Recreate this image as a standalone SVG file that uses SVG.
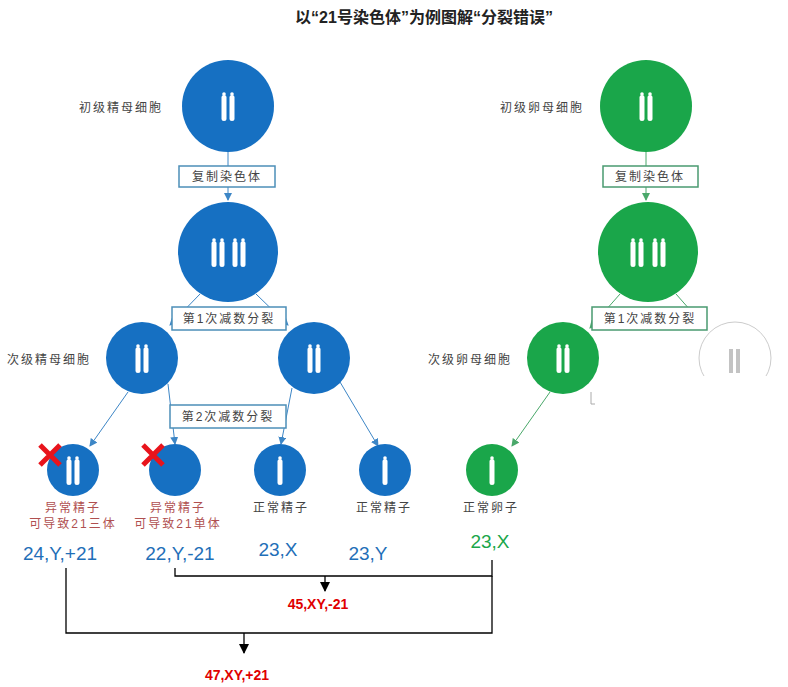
<svg xmlns="http://www.w3.org/2000/svg" width="788" height="687" viewBox="0 0 788 687">
<style>
text{font-family:"Liberation Sans","Noto Sans CJK SC",sans-serif}
.lb{font-size:12px;fill:#444;letter-spacing:2px}
.bx{fill:#fff;stroke-width:1.5}
.b{fill:#1670c2}.g{fill:#1aa64a}
.cb{stroke:#3d86c6;stroke-width:1;fill:none}
.cg{stroke:#4aa86a;stroke-width:1;fill:none}
.ch{fill:#fff}
.num{font-size:19px}
.res{font-size:14px;font-weight:bold;fill:#e00000}
.k{stroke:#000;stroke-width:1.3;fill:none}
</style>
<defs>
<g id="chr"><rect x="-2.5" y="-13" width="5" height="26" rx="2.5" class="ch"/><circle cx="0" cy="-14" r="1.8" class="ch"/></g>
<g id="pair"><use href="#chr" x="-4"/><use href="#chr" x="4"/></g>
<marker id="ab" markerWidth="8" markerHeight="8" refX="7" refY="4" orient="auto" markerUnits="userSpaceOnUse"><path d="M0,0L8,4L0,8z" fill="#3d86c6"/></marker>
<marker id="ag" markerWidth="8" markerHeight="8" refX="7" refY="4" orient="auto" markerUnits="userSpaceOnUse"><path d="M0,0L8,4L0,8z" fill="#4aa86a"/></marker>
<marker id="ak" markerWidth="10" markerHeight="10" refX="9" refY="5" orient="auto" markerUnits="userSpaceOnUse"><path d="M0,0L10,5L0,10z" fill="#000"/></marker>
</defs>
<text x="424" y="23" text-anchor="middle" font-size="16" font-weight="bold" fill="#222">以“21号染色体”为例图解“分裂错误”</text>
<g id="connectors">
<path class="cb" d="M228,152V200" marker-end="url(#ab)"/>
<path class="cb" d="M200,294L170,325" marker-end="url(#ab)"/>
<path class="cb" d="M256,294L288,325" marker-end="url(#ab)"/>
<path class="cb" d="M128,392L90,446" marker-end="url(#ab)"/>
<path class="cb" d="M168,384L175,444" marker-end="url(#ab)"/>
<path class="cb" d="M292,388L281,444" marker-end="url(#ab)"/>
<path class="cb" d="M340,382L378,446" marker-end="url(#ab)"/>
<path class="cg" d="M646,152V200" marker-end="url(#ag)"/>
<path class="cg" d="M620,294L590,328" marker-end="url(#ag)"/>
<path class="cg" d="M676,294L706,328" marker-end="url(#ag)" stroke="#bbb"/>
<path class="cg" d="M550,392L512,446" marker-end="url(#ag)"/>
<path d="M591,392V404M591,404h4" stroke="#aaa" fill="none"/>
<path class="k" d="M175,568V576H492V560"/>
<path class="k" d="M325,576V591" marker-end="url(#ak)"/>
<path class="k" d="M66,568V633H492V576"/>
<path class="k" d="M244,633V653" marker-end="url(#ak)"/>
</g>
<g id="box1"><rect class="bx" x="179" y="166" width="96" height="21" stroke="#4c8fb8"/><text x="227" y="181" text-anchor="middle" class="lb">复制染色体</text></g>
<g id="box2"><rect class="bx" x="172" y="307" width="114" height="23" stroke="#4c8fb8"/><text x="229" y="323" text-anchor="middle" class="lb">第1次减数分裂</text></g>
<g id="box3"><rect class="bx" x="170" y="405" width="116" height="23" stroke="#4c8fb8"/><text x="228" y="421" text-anchor="middle" class="lb">第2次减数分裂</text></g>
<g id="box4"><rect class="bx" x="603" y="166" width="95" height="21" stroke="#4a9a70"/><text x="650" y="181" text-anchor="middle" class="lb">复制染色体</text></g>
<g id="box5"><rect class="bx" x="592" y="307" width="115" height="23" stroke="#4a9a70"/><text x="650" y="323" text-anchor="middle" class="lb">第1次减数分裂</text></g>
<g id="spermPrimary"><circle cx="228" cy="106" r="46" class="b"/><use href="#pair" x="228" y="108"/><text x="121" y="112" text-anchor="middle" class="lb">初级精母细胞</text></g>
<g id="spermDup"><circle cx="228" cy="252" r="50" class="b"/><use href="#pair" x="218" y="254"/><use href="#pair" x="239" y="254"/></g>
<g id="spermSec1"><circle cx="142" cy="358" r="36" class="b"/><use href="#pair" x="142" y="360"/><text x="49" y="364" text-anchor="middle" class="lb">次级精母细胞</text></g>
<g id="spermSec2"><circle cx="314" cy="358" r="36" class="b"/><use href="#pair" x="314" y="360"/></g>
<g id="sperm1"><circle cx="73" cy="470" r="26" class="b"/><use href="#pair" x="73" y="472"/>
<path d="M40,445L60,465M60,445L40,465" stroke="#e8141c" stroke-width="5"/>
<text x="73" y="512" text-anchor="middle" class="lb" fill="#b05050" style="fill:#b05050">异常精子</text><text x="73" y="528" text-anchor="middle" class="lb" style="fill:#b05050">可导致21三体</text>
<text x="60" y="560" text-anchor="middle" class="num" fill="#1f6fb8">24,Y,+21</text></g>
<g id="sperm2"><circle cx="175" cy="470" r="26" class="b"/>
<path d="M143,445L163,465M163,445L143,465" stroke="#e8141c" stroke-width="5"/>
<text x="178" y="512" text-anchor="middle" class="lb" style="fill:#b05050">异常精子</text><text x="178" y="528" text-anchor="middle" class="lb" style="fill:#b05050">可导致21单体</text>
<text x="180" y="560" text-anchor="middle" class="num" fill="#1f6fb8">22,Y,-21</text></g>
<g id="sperm3"><circle cx="280" cy="470" r="26" class="b"/><use href="#chr" x="280" y="472"/><text x="281" y="512" text-anchor="middle" class="lb">正常精子</text><text x="278" y="556" text-anchor="middle" class="num" fill="#1f6fb8">23,X</text></g>
<g id="sperm4"><circle cx="385" cy="470" r="26" class="b"/><use href="#chr" x="385" y="472"/><text x="384" y="512" text-anchor="middle" class="lb">正常精子</text><text x="368" y="560" text-anchor="middle" class="num" fill="#1f6fb8">23,Y</text></g>
<g id="eggPrimary"><circle cx="646" cy="106" r="46" class="g"/><use href="#pair" x="646" y="108"/><text x="542" y="112" text-anchor="middle" class="lb">初级卵母细胞</text></g>
<g id="eggDup"><circle cx="648" cy="252" r="50" class="g"/><use href="#pair" x="637" y="254"/><use href="#pair" x="659" y="254"/></g>
<g id="eggSec"><circle cx="563" cy="358" r="36" class="g"/><use href="#pair" x="563" y="360"/><text x="470" y="364" text-anchor="middle" class="lb">次级卵母细胞</text></g>
<g id="polarBody"><circle cx="735" cy="358" r="36" fill="#fff" stroke="#ccc"/><g opacity="0.35"><rect x="729" y="349" width="4" height="24" fill="#555"/><rect x="736" y="349" width="4" height="24" fill="#555"/></g><rect x="695" y="376" width="90" height="30" fill="#fff"/></g>
<g id="egg"><circle cx="492" cy="470" r="26" class="g"/><use href="#chr" x="492" y="472"/><text x="491" y="512" text-anchor="middle" class="lb">正常卵子</text><text x="490" y="548" text-anchor="middle" class="num" fill="#1aa64a">23,X</text></g>
<g id="results"><text x="318" y="609" text-anchor="middle" class="res">45,XY,-21</text><text x="237" y="680" text-anchor="middle" class="res">47,XY,+21</text></g>
</svg>
